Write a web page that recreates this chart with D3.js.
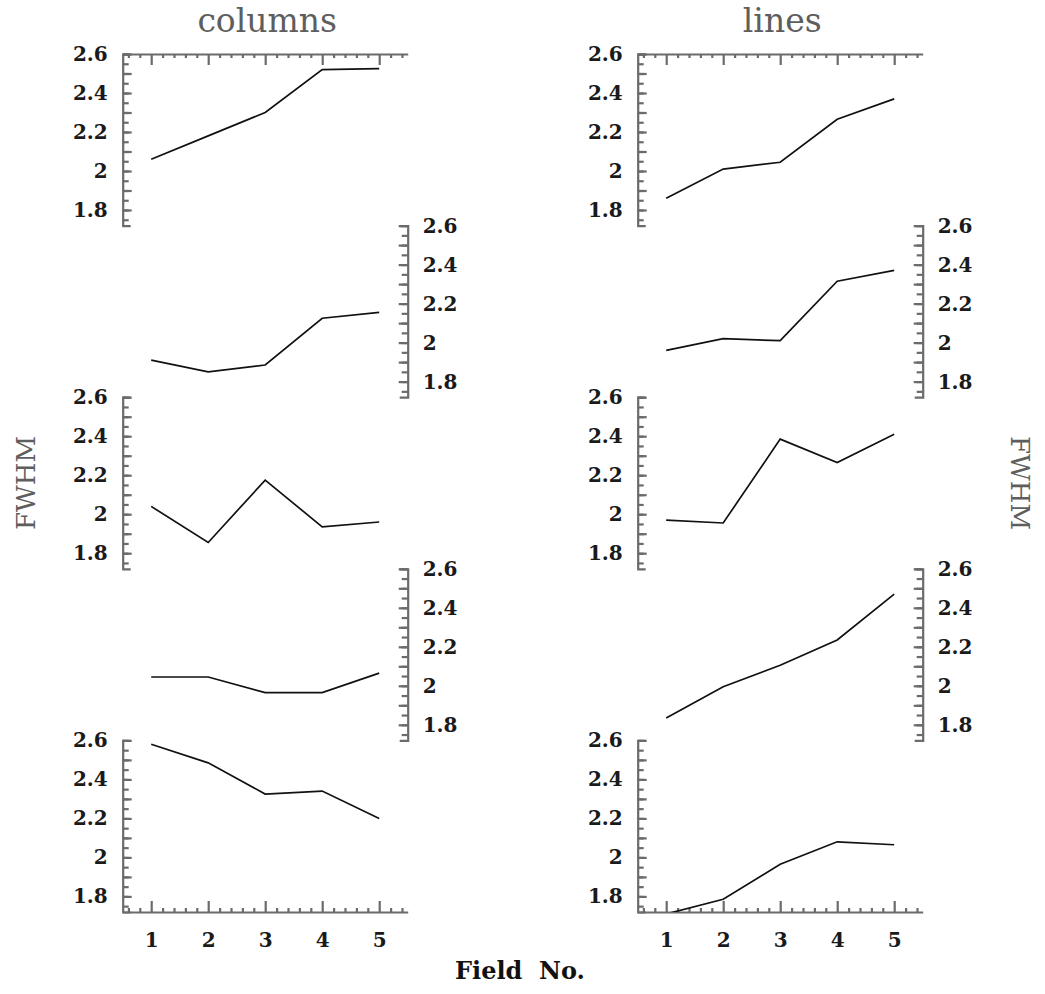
<!DOCTYPE html>
<html>
<head>
<meta charset="utf-8">
<script src="https://cdn.jsdelivr.net/npm/d3@7"></script>
<style>
  body { margin: 0; background: #fff; }
  .axis path, .axis line { stroke: #6b6b6b; stroke-width: 2.2; }
  .axis text { font-family: "DejaVu Serif", serif; font-size: 20px; font-weight: bold; fill: #1a1a1a; }
  .title { font-family: "DejaVu Serif", serif; fill: #5e5e5e; }
</style>
</head>
<body>
<script>
// field numbers along the x axis
var fields = [1, 2, 3, 4, 5];

// FWHM per field, one array per panel row (top to bottom)
var columnsFWHM = [
  [2.06, 2.18, 2.30, 2.52, 2.525],
  [1.91, 1.85, 1.885, 2.125, 2.155],
  [2.04, 1.855, 2.175, 1.935, 1.96],
  [2.045, 2.045, 1.965, 1.965, 2.065],
  [2.58, 2.485, 2.325, 2.34, 2.20]
];
var linesFWHM = [
  [1.86, 2.01, 2.045, 2.265, 2.37],
  [1.96, 2.02, 2.01, 2.315, 2.37],
  [1.97, 1.955, 2.385, 2.265, 2.41],
  [1.835, 1.995, 2.105, 2.235, 2.47],
  [1.71, 1.785, 1.965, 2.08, 2.065]
];

var yTickLabels = [1.8, 2, 2.2, 2.4, 2.6];
var columnTitles = ["columns", "lines"];

var W = 1045, H = 994;
var top0 = 54, panelH = 171.6;
var colLeft = [122.7, 637.7], colW = 285;

var svg = d3.select("body").append("svg")
    .attr("width", W)
    .attr("height", H);

var y = d3.scaleLinear().domain([1.72, 2.6]).range([panelH, 0]);
var yMinor = d3.range(1.75, 2.601, 0.05);
var yMid = yMinor.filter(function(d) { return Math.abs(Math.round(d * 10) - d * 10) < 1e-6; });
var xMinor = d3.range(0.6, 5.41, 0.2).filter(function(d) { return Math.abs(d - Math.round(d)) > 1e-6; });

var fmt = function(d) { return String(+d.toFixed(1)); };

[columnsFWHM, linesFWHM].forEach(function(series, c) {
  var x = d3.scaleLinear().domain([0.5, 5.5]).range([0, colW]);

  svg.append("text")
      .attr("class", "title")
      .attr("x", colLeft[c] + colW / 2 + 2)
      .attr("y", 32)
      .attr("text-anchor", "middle")
      .style("font-size", "33px")
      .text(columnTitles[c]);

  series.forEach(function(vals, r) {
    var g = svg.append("g")
        .attr("transform", "translate(" + colLeft[c] + "," + (top0 + r * panelH) + ")");

    var onLeft = r % 2 === 0;
    var mk = onLeft ? d3.axisLeft : d3.axisRight;
    var gx = onLeft ? 0 : colW;

    // minor y ticks (0.05)
    g.append("g").attr("class", "axis")
        .attr("transform", "translate(" + gx + ",0)")
        .call(mk(y).tickValues(yMinor).tickSizeInner(-6).tickSizeOuter(-8).tickFormat(""));
    // 0.1 ticks
    g.append("g").attr("class", "axis")
        .attr("transform", "translate(" + gx + ",0)")
        .call(mk(y).tickValues(yMid).tickSizeInner(-9).tickSizeOuter(0).tickFormat(""))
        .select(".domain").remove();
    // labels
    g.append("g").attr("class", "axis")
        .attr("transform", "translate(" + gx + ",0)")
        .call(mk(y).tickValues(yTickLabels).tickSize(0).tickPadding(15).tickFormat(fmt))
        .select(".domain").remove();

    if (r === 0) {
      g.append("g").attr("class", "axis")
          .call(d3.axisTop(x).tickValues(xMinor).tickSizeInner(-4).tickSizeOuter(0).tickFormat(""));
      g.append("g").attr("class", "axis")
          .call(d3.axisTop(x).tickValues(fields).tickSizeInner(-11).tickSizeOuter(0).tickFormat(""))
          .select(".domain").remove();
    }
    if (r === series.length - 1) {
      g.append("g").attr("class", "axis")
          .attr("transform", "translate(0," + panelH + ")")
          .call(d3.axisBottom(x).tickValues(xMinor).tickSizeInner(-4).tickSizeOuter(0).tickFormat(""));
      g.append("g").attr("class", "axis")
          .attr("transform", "translate(0," + panelH + ")")
          .call(d3.axisBottom(x).tickValues(fields).tickSizeInner(-11).tickSizeOuter(0).tickPadding(21).tickFormat(d3.format("d")))
          .select(".domain").remove();
    }

    var clipId = "clip-" + c + "-" + r;
    g.append("clipPath").attr("id", clipId)
      .append("rect").attr("x", 0).attr("y", -2).attr("width", colW).attr("height", panelH + 2);

    g.append("path")
        .datum(vals)
        .attr("clip-path", "url(#" + clipId + ")")
        .attr("fill", "none")
        .attr("stroke", "#111")
        .attr("stroke-width", 1.7)
        .attr("d", d3.line()
          .x(function(d, i) { return x(fields[i]); })
          .y(function(d) { return y(d); }));
  });
});

var midY = top0 + 2.5 * panelH;
svg.append("text")
    .attr("class", "title")
    .attr("transform", "translate(35," + midY + ") rotate(-90)")
    .attr("text-anchor", "middle")
    .style("font-size", "26px")
    .text("FWHM");
svg.append("text")
    .attr("class", "title")
    .attr("transform", "translate(1011," + midY + ") rotate(90)")
    .attr("text-anchor", "middle")
    .style("font-size", "26px")
    .text("FWHM");

svg.append("text")
    .attr("x", 520)
    .attr("y", 979)
    .attr("text-anchor", "middle")
    .style("font-family", "DejaVu Serif, serif")
    .style("font-size", "24px")
    .style("font-weight", "bold")
    .style("fill", "#111")
    .text("Field\u00a0 No.");
</script>
</body>
</html>
